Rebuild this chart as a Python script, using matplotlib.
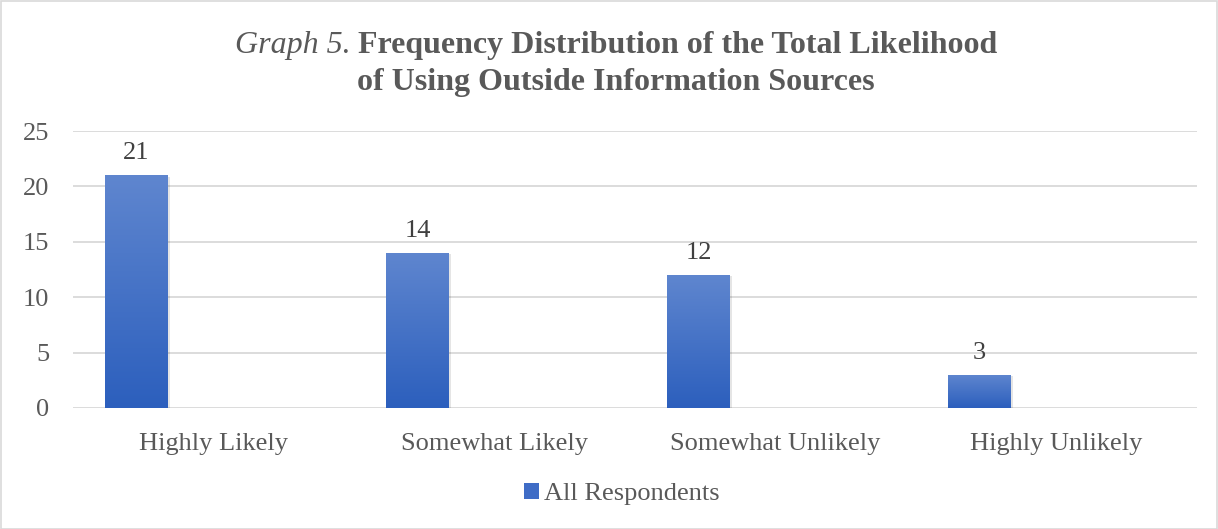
import numpy as np
import matplotlib
matplotlib.use("Agg")
import matplotlib.pyplot as plt
from matplotlib.colors import LinearSegmentedColormap
from matplotlib.patches import Rectangle

categories = ["Highly Likely", "Somewhat Likely", "Somewhat Unlikely", "Highly Unlikely"]
counts = [21, 14, 12, 3]
series_name = "All Respondents"
y_ticks = [0, 5, 10, 15, 20, 25]

TEXT = "#595959"
GRID = "#d9d9d9"
TOP_BLUE = "#5f86cf"
BOTTOM_BLUE = "#2c5fbd"

plt.rcParams["font.family"] = ["Liberation Serif", "DejaVu Serif"]

fig = plt.figure(figsize=(12.18, 5.29), dpi=100)
ax = fig.add_axes([73 / 1218, 1 - 408 / 529, (1197 - 73) / 1218, (408 - 131) / 529])

x = np.arange(len(categories))
bars = ax.bar(x - 0.274, counts, width=0.224, color=BOTTOM_BLUE, zorder=3)

# vertical gradient inside each bar, like the Excel fill
cmap = LinearSegmentedColormap.from_list("bar", [BOTTOM_BLUE, TOP_BLUE])
grad = np.linspace(0, 1, 256).reshape(-1, 1)
for b in bars:
    x0, y0, w, h = b.get_x(), b.get_y(), b.get_width(), b.get_height()
    # soft shadow
    ax.add_patch(Rectangle((x0 + 0.006, y0 - 0.12), w, h, facecolor="#000000",
                           alpha=0.10, zorder=2, linewidth=0))
    im = ax.imshow(grad, cmap=cmap, origin="lower", aspect="auto",
                   extent=(x0, x0 + w, y0, y0 + h), zorder=4)
    im.set_clip_path(b)
    ax.annotate(str(int(h)), (x0 + w / 2, h), xytext=(0, 8), textcoords="offset points",
                ha="center", va="bottom", fontsize=19, color="#404040")

ax.set_xlim(-0.5, len(categories) - 0.5)
ax.set_ylim(0, 25)
ax.set_yticks(y_ticks)
ax.set_xticks(x)
ax.set_xticklabels(categories)
ax.tick_params(axis="both", length=0, labelsize=19, colors=TEXT)
ax.tick_params(axis="x", pad=18)
ax.tick_params(axis="y", pad=17)
ax.yaxis.grid(True, color=GRID, linewidth=1.3, zorder=0)
ax.set_axisbelow(True)
for s in ax.spines.values():
    s.set_visible(False)

# legend
handle = Rectangle((0, 0), 1, 1, facecolor="#3f6cc6")
fig.legend([handle], [series_name], loc="center", bbox_to_anchor=(622 / 1218, 1 - 494 / 529),
           frameon=False, fontsize=19, labelcolor=TEXT, handlelength=0.55, handleheight=0.55,
           handletextpad=0.2)

# title: italic "Graph 5." + bold remainder on line 1
fig.canvas.draw()
renderer = fig.canvas.get_renderer()
y1 = 1 - 46 / 529
t_a = fig.text(0, y1, "Graph 5.", fontsize=23, style="italic", color=TEXT, va="center")
t_b = fig.text(0, y1, " Frequency Distribution of the Total Likelihood", fontsize=23,
               weight="bold", color=TEXT, va="center")
wa = t_a.get_window_extent(renderer).width
wb = t_b.get_window_extent(renderer).width
left = (616 - (wa + wb) / 2) / 1218
t_a.set_x(left)
t_b.set_x(left + wa / 1218)
fig.text(616 / 1218, 1 - 83 / 529, "of Using Outside Information Sources", fontsize=23,
         weight="bold", color=TEXT, ha="center", va="center")

fig.patches.append(Rectangle((0.5 / 1218, 0.5 / 529), 1 - 1.5 / 1218, 1 - 1.5 / 529,
                             transform=fig.transFigure, fill=False, edgecolor=GRID, linewidth=1.2))

fig.savefig("out.png", dpi=100)
